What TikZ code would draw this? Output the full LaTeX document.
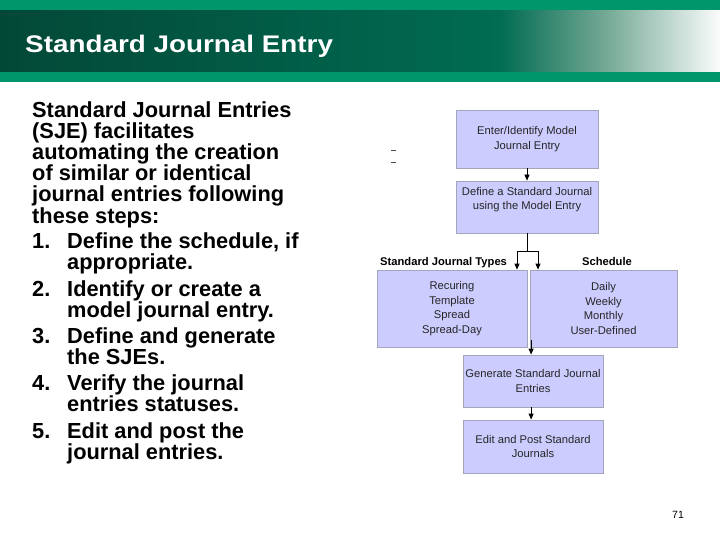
\documentclass[tikz,border=0pt]{standalone}
\usepackage{fontspec}
\setmainfont{Liberation Sans}
\newfontfamily\titlefont[FakeStretch=1.16]{Liberation Sans}
\usetikzlibrary{arrows.meta}
\definecolor{hdrgreen}{RGB}{0,150,108}
\definecolor{hdrdark}{RGB}{3,72,55}
\definecolor{hdrmid}{RGB}{0,108,82}
\definecolor{hdrfade}{RGB}{110,165,145}
\definecolor{hdrend}{RGB}{250,252,251}
\definecolor{boxfill}{RGB}{204,204,255}
\definecolor{boxline}{RGB}{165,165,185}
\pgfdeclarehorizontalshading{hdrshade}{100bp}{color(0bp)=(hdrdark); color(25bp)=(hdrdark); color(59.7bp)=(hdrmid); color(66.7bp)=(hdrfade); color(75bp)=(hdrend); color(100bp)=(hdrend)}
\tikzset{
  body/.style={anchor=base west, inner sep=0pt, text=black, font=\bfseries\fontsize{21.8}{21}\selectfont},
  fbox/.style={draw=boxline, fill=boxfill, line width=0.8pt, inner sep=0pt, align=center, text=black!85, font=\fontsize{11.2}{14.6}\selectfont},
  ftext/.style={inner sep=0pt, align=center, text=black!85, font=\fontsize{11.2}{14.6}\selectfont},
  lbl/.style={inner sep=0pt, text=black, font=\bfseries\fontsize{11.2}{13}\selectfont},
  conn/.style={draw=black, line width=0.8pt},
  arr/.style={draw=black, line width=0.8pt, -{Triangle[length=6pt,width=5pt]}}
}
\begin{document}
\begin{tikzpicture}[x=1pt,y=-1pt]
\useasboundingbox (0,0) rectangle (720,540);
\fill[white] (0,0) rectangle (720,540);
% header
\fill[hdrgreen] (0,0) rectangle (720,82);
\shade[shading=hdrshade] (0,11) rectangle (720,72);
\node[anchor=base west, inner sep=0pt, text=white, font=\titlefont\bfseries\fontsize{24}{28}\selectfont] (title) at (25,53) {Standard Journal Entry};
% body text: introduction
\foreach \k/\t in {0/Standard Journal Entries, 1/(SJE) facilitates, 2/automating the creation, 3/of similar or identical, 4/journal entries following, 5/these steps:}
  \node[body] (intro\k) at (32,118+21*\k) {\t};
% numbered steps
\foreach \k/\y in {1/248, 2/296, 3/343, 4/390, 5/438}
  \node[body] (num\k) at (32,\y) {\k.};
\foreach \k/\y/\t in {1/248/{Define the schedule, if}, 2/296/{Identify or create a}, 3/343/{Define and generate}, 4/390/{Verify the journal}, 5/438/{Edit and post the}}
  \node[body] (stepa\k) at (67,\y) {\t};
\foreach \k/\y/\t in {1/269/{appropriate.}, 2/317/{model journal entry.}, 3/364/{the SJEs.}, 4/411/{entries statuses.}, 5/459/{journal entries.}}
  \node[body] (stepb\k) at (67,\y) {\t};
% small marks
\draw[black!70, line width=0.7pt] (391,150) -- (396,150);
\draw[black!70, line width=0.7pt] (391,162) -- (396,162);
% flowchart
\node[fbox, minimum width=142pt, minimum height=58pt] (b1) at (527,139) {Enter/Identify Model\\Journal Entry};
\node[fbox, minimum width=142pt, minimum height=52pt] (b2) at (527,207) {};
\node[ftext] (b2t) at ([yshift=7.5pt]b2.center) {Define a Standard Journal\\using the Model Entry};
\node[fbox, minimum width=150pt, minimum height=77pt] (b3) at (452,308.5) {Recuring\\Template\\Spread\\Spread-Day};
\node[fbox, minimum width=147pt, minimum height=77pt] (b4) at (603.5,308.5) {Daily\\Weekly\\Monthly\\User-Defined};
\node[fbox, minimum width=140pt, minimum height=52pt] (b5) at (533,381) {Generate Standard Journal\\Entries};
\node[fbox, minimum width=140pt, minimum height=53pt] (b6) at (533,446.5) {Edit and Post Standard\\Journals};
\node[lbl, anchor=base west] (tl) at (380,265.5) {Standard Journal Types};
\node[lbl, anchor=base] (sl) at (607,265.5) {Schedule};
\draw[arr] (b1) -- (b2);
\coordinate (j) at (527,251);
\coordinate (jl) at (517,251);
\coordinate (jr) at (538,251);
\draw[conn] (b2.south) -- (j);
\draw[conn] (jl) -- (jr);
\draw[arr] (jl) -- (jl |- b3.north);
\draw[arr] (jr) -- (jr |- b4.north);
\coordinate (c4) at ([xshift=1.5pt,yshift=7pt]b4.south west);
\draw[arr] (c4) -- (c4 |- b5.north);
\draw[arr] (b5.south -| c4) -- (c4 |- b6.north);
% page number
\node[anchor=base, inner sep=0pt, font=\fontsize{10.5}{12}\selectfont] (pg) at (678,518) {71};
\end{tikzpicture}
\end{document}
